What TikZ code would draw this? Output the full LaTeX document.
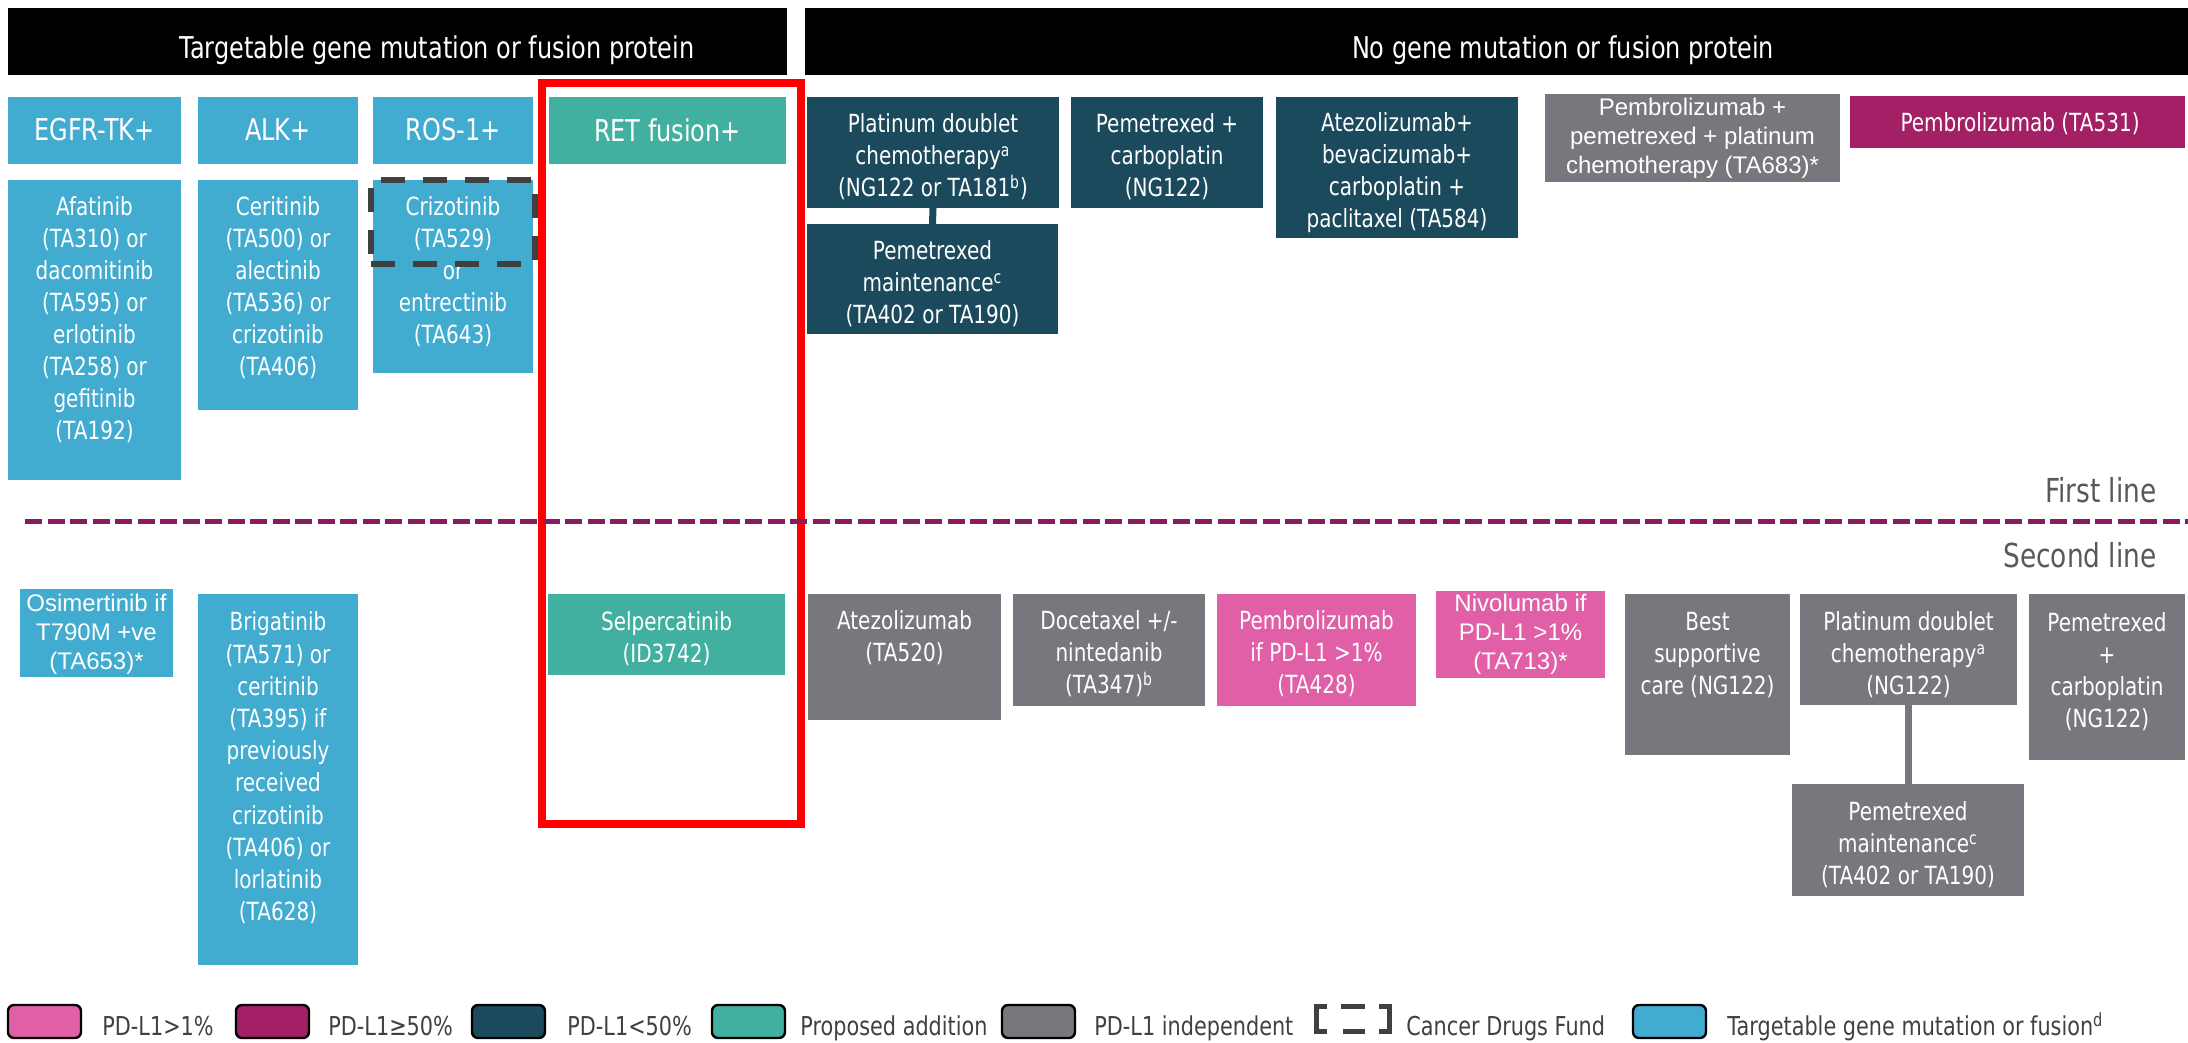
\documentclass[tikz,border=0pt]{standalone}
\usepackage{fontspec}
\setmainfont{DejaVu Sans}[FakeStretch=0.8]
\newfontfamily\arialf{Liberation Sans}
\definecolor{cblue}{HTML}{42ABD0}
\definecolor{cteal}{HTML}{41B0A0}
\definecolor{cdark}{HTML}{1A4A5B}
\definecolor{cgray}{HTML}{76787E}
\definecolor{cpink}{HTML}{E05FA6}
\definecolor{cmag}{HTML}{A32066}
\definecolor{cline}{HTML}{8A1A5E}
\definecolor{cdfc}{HTML}{404040}
\definecolor{clbl}{HTML}{595959}
\begin{document}
\begin{tikzpicture}[x=0.5pt,y=-0.5pt,
  bx/.style={fill=#1, draw=none, inner sep=0pt, outer sep=0pt, anchor=north west},
  sz/.style 2 args={minimum width=#1*0.5pt, minimum height=#2*0.5pt},
  txt/.style={text=white, align=center, inner sep=0pt, font=\fontsize{12.5}{16}\selectfont},
  atxt/.style={text=white, align=center, inner sep=0pt, font=\arialf\fontsize{12}{14.5}\selectfont},
  head/.style={text=white, inner sep=0pt, font=\fontsize{15}{18}\selectfont},
  conn/.style={line width=3.5pt},
  sepline/.style={draw=cline, line width=2.5pt, dash pattern=on 8.5pt off 2.75pt},
  linelbl/.style={text=clbl, inner sep=0pt, anchor=east, font=\fontsize{16.5}{20}\selectfont},
  swatch/.style={fill=#1, draw=black, line width=1.2pt, rounded corners=3pt, inner sep=0pt, outer sep=0pt, anchor=north west, minimum width=36.5pt, minimum height=16.5pt},
  legtxt/.style={text=cdfc, inner sep=0pt, anchor=base west, font=\fontsize{13}{16}\selectfont},
  cdfbox/.style={draw=cdfc, line width=3pt, dash pattern=on 12pt off 9pt, inner sep=0pt, outer sep=0pt, anchor=north west},
  cdfleg/.style={draw=cdfc, line width=2.5pt}
]
\useasboundingbox (0,0) rectangle (2188,1043);

% headers
\node[bx=black, sz={779}{67}] (h1) at (8,8) {};
\node[head] (h1t) at (437,50) {Targetable gene mutation or fusion protein};
\node[bx=black, sz={1383}{67}] (h2) at (805,8) {};
\node[head] (h2t) at (1563,50) {No gene mutation or fusion protein};

% category row
\node[bx=cblue, sz={173}{67}] (egfr) at (8,97) {};
\node[head] (egfrt) at (94.5,130) {EGFR-TK+};
\node[bx=cblue, sz={160}{67}] (alk) at (198,97) {};
\node[head] (alkt) at (278,130) {ALK+};
\node[bx=cblue, sz={160}{67}] (ros) at (373,97) {};
\node[head] (rost) at (453,130) {ROS-1+};
\node[bx=cteal, sz={237}{67}] (ret) at (549,97) {};
\node[head] (rett) at (667.5,130) {RET fusion+};

% first line targetable
\node[bx=cblue, sz={173}{300}] (afa) at (8,180) {};
\node[txt] (afat) at (94.5,320) {Afatinib\\(TA310) or\\dacomitinib\\(TA595) or\\erlotinib\\(TA258) or\\gefitinib\\(TA192)};
\node[bx=cblue, sz={160}{230}] (cer) at (198,180) {};
\node[txt] (cert) at (278,288) {Ceritinib\\(TA500) or\\alectinib\\(TA536) or\\crizotinib\\(TA406)};
\node[bx=cblue, sz={160}{193}] (rosd) at (373,180) {};
\node[txt] (rosdt) at (453,272) {Crizotinib\\(TA529)\\or\\entrectinib\\(TA643)};
\node[cdfbox, sz={164}{84}] (cdf) at (371,180) {};

% first line no mutation
\node[bx=cdark, sz={252}{111}] (pd1) at (807,97) {};
\node[txt] (pd1t) at (933,157) {Platinum doublet\\chemotherapy\textsuperscript{a}\\(NG122 or TA181\textsuperscript{b})};
\node[bx=cdark, sz={251}{110}] (pm1) at (807,224) {};
\node[txt] (pm1t) at (932.5,284) {Pemetrexed\\maintenance\textsuperscript{c}\\(TA402 or TA190)};
\draw[conn, cdark] (pd1.south) -- (pm1.north);
\node[bx=cdark, sz={192}{111}] (pc1) at (1071,97) {};
\node[txt] (pc1t) at (1167,157) {Pemetrexed +\\carboplatin\\(NG122)};
\node[bx=cdark, sz={242}{141}] (ab1) at (1276,97) {};
\node[txt] (ab1t) at (1397,172.5) {Atezolizumab+\\bevacizumab+\\carboplatin +\\paclitaxel (TA584)};
\node[bx=cgray, sz={295}{88}] (ppp) at (1545,94) {};
\node[atxt] (pppt) at (1692.5,138) {Pembrolizumab +\\pemetrexed + platinum\\chemotherapy (TA683)*};
\node[bx=cmag, sz={335}{52}] (p531) at (1850,96) {};
\node[txt] (p531t) at (2020,124) {Pembrolizumab (TA531)};

% red highlight
\node[draw=red, line width=4pt, inner sep=0pt, outer sep=0pt, anchor=north west, sz={259}{741}] (redbox) at (542,83) {};

% separator
\coordinate (dl) at (25,521);
\coordinate (dr) at (2188,521);
\draw[sepline] (dl) -- (dr);
\node[linelbl] (fl) at (2157,490) {First line};
\node[linelbl] (sl) at (2157,555) {Second line};

% second line
\node[bx=cblue, sz={153}{88}] (osi) at (20,589) {};
\node[atxt] (osit) at (96.5,634) {Osimertinib if\\T790M +ve\\(TA653)*};
\node[bx=cblue, sz={160}{371}] (bri) at (198,594) {};
\node[txt, font=\fontsize{12.5}{16.1}\selectfont] (brit) at (278,768) {Brigatinib\\(TA571) or\\ceritinib\\(TA395) if\\previously\\received\\crizotinib\\(TA406) or\\lorlatinib\\(TA628)};
\node[bx=cteal, sz={237}{81}] (sel) at (548,594) {};
\node[txt] (selt) at (666.5,639) {Selpercatinib\\(ID3742)};
\node[bx=cgray, sz={193}{126}] (atz) at (808,594) {};
\node[txt] (atzt) at (904.5,638) {Atezolizumab\\(TA520)};
\node[bx=cgray, sz={192}{112}] (doc) at (1013,594) {};
\node[txt] (doct) at (1109,654) {Docetaxel +/-\\nintedanib\\(TA347)\textsuperscript{b}};
\node[bx=cpink, sz={199}{112}] (pem) at (1217,594) {};
\node[txt] (pemt) at (1316.5,654) {Pembrolizumab\\if PD-L1 >1\%\\(TA428)};
\node[bx=cpink, sz={169}{87}] (niv) at (1436,591) {};
\node[atxt] (nivt) at (1520.5,634) {Nivolumab if\\PD-L1 >1\%\\(TA713)*};
\node[bx=cgray, sz={165}{161}] (bsc) at (1625,594) {};
\node[txt] (bsct) at (1707.5,655) {Best\\supportive\\care (NG122)};
\node[bx=cgray, sz={217}{111}] (pd2) at (1800,594) {};
\node[txt] (pd2t) at (1908.5,655) {Platinum doublet\\chemotherapy\textsuperscript{a}\\(NG122)};
\node[bx=cgray, sz={232}{112}] (pm2) at (1792,784) {};
\node[txt] (pm2t) at (1908,845) {Pemetrexed\\maintenance\textsuperscript{c}\\(TA402 or TA190)};
\draw[conn, cgray] (pd2.south) -- (pd2.south |- pm2.north);
\node[bx=cgray, sz={156}{166}] (pc2) at (2029,594) {};
\node[txt] (pc2t) at (2107,671.5) {Pemetrexed\\+\\carboplatin\\(NG122)};

% legend
\node[swatch=cpink] (sw1) at (8,1005) {};
\node[legtxt] (lg1) at (102,1035) {PD-L1>1\%};
\node[swatch=cmag] (sw2) at (236,1005) {};
\node[legtxt] (lg2) at (328,1035) {PD-L1≥50\%};
\node[swatch=cdark] (sw3) at (472,1005) {};
\node[legtxt] (lg3) at (567,1035) {PD-L1<50\%};
\node[swatch=cteal] (sw4) at (712,1005) {};
\node[legtxt] (lg4) at (800,1035) {Proposed addition};
\node[swatch=cgray] (sw5) at (1002,1005) {};
\node[legtxt] (lg5) at (1094,1035) {PD-L1 independent};
\draw[cdfleg] (1327,1006) -- (1316,1006) -- (1316,1031) -- (1327,1031);
\draw[cdfleg] (1379,1006) -- (1389,1006) -- (1389,1031) -- (1379,1031);
\draw[cdfleg] (1341,1006) -- (1365,1006);
\draw[cdfleg] (1343,1031) -- (1365,1031);
\node[legtxt] (lg6) at (1406,1035) {Cancer Drugs Fund};
\node[swatch=cblue] (sw6) at (1633,1005) {};
\node[legtxt] (lg7) at (1727,1035) {Targetable gene mutation or fusion\textsuperscript{d}};
\end{tikzpicture}
\end{document}
